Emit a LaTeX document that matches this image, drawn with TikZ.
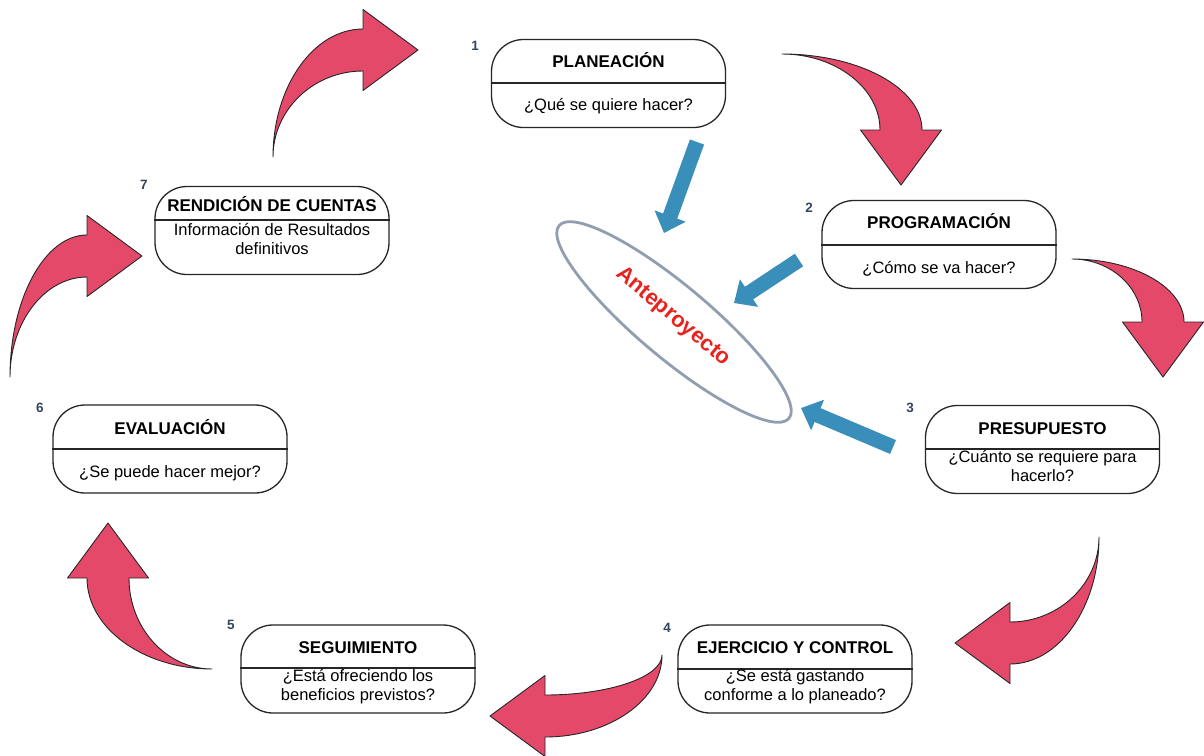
\documentclass[tikz,border=0pt]{standalone}
\usepackage{fontspec}
\setmainfont{Liberation Sans}
\usetikzlibrary{arrows.meta,shapes.geometric}
\definecolor{arrred}{RGB}{229,73,106}
\definecolor{arrblue}{RGB}{58,142,186}
\definecolor{numcol}{RGB}{50,70,95}
\definecolor{ellcol}{RGB}{145,158,175}
\definecolor{antered}{RGB}{232,35,30}
% tail point, rotation, A (along initial direction), B (along final direction)
\newcommand\cyclearrow[4]{%
  \begin{scope}[shift={(#1)},rotate=#2]
    \path[redarrow] (0,0) .. controls ({0.55*(#3+21)},0) and ({#3+21},{0.45*#4}) .. ({#3+21},#4)
      -- ({#3+40.5},#4) -- (#3,{#4+55}) -- ({#3-40.5},#4) -- ({#3-21},#4)
      .. controls ({#3-21},{0.45*#4}) and ({0.55*(#3-21)},0) .. cycle;
  \end{scope}}
\begin{document}
\begin{tikzpicture}[x=1pt,y=-1pt,
  boxst/.style={draw=black!85, line width=1.3pt, rounded corners=32pt, minimum width=234pt, minimum height=88pt, inner sep=0pt},
  divst/.style={draw=black!85, line width=1.3pt},
  titlest/.style={font=\bfseries\fontsize{17}{19}\selectfont, inner sep=0pt, text height=12.2pt, text depth=0pt},
  bodyst/.style={font=\fontsize{16.5}{18.5}\selectfont, inner sep=0pt, align=center, text height=12pt, text depth=3.5pt},
  numst/.style={font=\bfseries\fontsize{13.5}{14}\selectfont, text=numcol, inner sep=0pt},
  redarrow/.style={fill=arrred, draw=black!85, line width=0.9pt, line join=round},
  bluearrow/.style={draw=arrblue, line width=15pt, -{Triangle[width=32pt,length=18pt]}}]
\useasboundingbox (0,0) rectangle (1204,755);
\fill[white] (0,0) rectangle (1204,755);

% red cycle arrows
\cyclearrow{782,54}{0}{119}{76}
\cyclearrow{1072,259}{0}{91}{63}
\cyclearrow{1099,537}{-90}{106}{89}
\cyclearrow{662,655}{-90}{61}{117}
\cyclearrow{212,669}{180}{104}{91}
\cyclearrow{10,377}{90}{121}{77}
\cyclearrow{273,157}{90}{107}{90}

% boxes
\node[boxst] (b1) at (608.5,83.5) {};
\draw[divst] (b1.west |- 0,83) -- (b1.east |- 0,83);
\node[titlest] (t1) at (608.5,61.5) {PLANEACIÓN};
\node[bodyst] (d1) at (608.5,106) {¿Qué se quiere hacer?};
\node[numst] (n1) at (475,46) {1};

\node[boxst] (b2) at (939,244.5) {};
\draw[divst] (b2.west |- 0,245) -- (b2.east |- 0,245);
\node[titlest] (t2) at (939,222.5) {PROGRAMACIÓN};
\node[bodyst] (d2) at (939,269) {¿Cómo se va hacer?};
\node[numst] (n2) at (809,208) {2};

\node[boxst] (b3) at (1042.5,449.5) {};
\draw[divst] (b3.west |- 0,449) -- (b3.east |- 0,449);
\node[titlest] (t3) at (1042.5,428) {PRESUPUESTO};
\node[bodyst] (d3) at (1042.5,477) {¿Cuánto se requiere para\\hacerlo?};
\node[numst] (n3) at (910,408) {3};

\node[boxst] (b4) at (795,669) {};
\draw[divst] (b4.west |- 0,669) -- (b4.east |- 0,669);
\node[titlest] (t4) at (795,647.5) {EJERCICIO Y CONTROL};
\node[bodyst] (d4) at (795,696) {¿Se está gastando\\conforme a lo planeado?};
\node[numst] (n4) at (667,628) {4};

\node[boxst] (b5) at (358,669) {};
\draw[divst] (b5.west |- 0,668) -- (b5.east |- 0,668);
\node[titlest] (t5) at (358,647.5) {SEGUIMIENTO};
\node[bodyst] (d5) at (358,696) {¿Está ofreciendo los\\beneficios previstos?};
\node[numst] (n5) at (231,625) {5};

\node[boxst] (b6) at (170,449) {};
\draw[divst] (b6.west |- 0,449) -- (b6.east |- 0,449);
\node[titlest] (t6) at (170,428.5) {EVALUACIÓN};
\node[bodyst] (d6) at (170,473) {¿Se puede hacer mejor?};
\node[numst] (n6) at (40,408) {6};

\node[boxst] (b7) at (272,230.5) {};
\draw[divst] (b7.west |- 0,220) -- (b7.east |- 0,220);
\node[titlest] (t7) at (272,205) {RENDICIÓN DE CUENTAS};
\node[bodyst] (d7) at (272,250) {Información de Resultados\\definitivos};
\node[numst] (n7) at (144,185) {7};

% central ellipse
\node[draw=ellcol, line width=2.8pt, ellipse, minimum width=300pt, minimum height=72pt, inner sep=0pt, rotate=-40] (ell) at (674,322) {};
\node[rotate=-40, text=antered, font=\bfseries\fontsize{22}{22}\selectfont, inner sep=0pt] (ante) at (673,317) {Anteproyecto};

% blue arrows
\coordinate (ta) at (697,142);
\coordinate (ha) at (664,233);
\coordinate (tb) at (799,260);
\coordinate (hb) at (734,303);
\coordinate (tc) at (893,447);
\coordinate (hc) at (801,408);
\draw[bluearrow] (ta) -- (ha);
\draw[bluearrow] (tb) -- (hb);
\draw[bluearrow] (tc) -- (hc);
\end{tikzpicture}
\end{document}
